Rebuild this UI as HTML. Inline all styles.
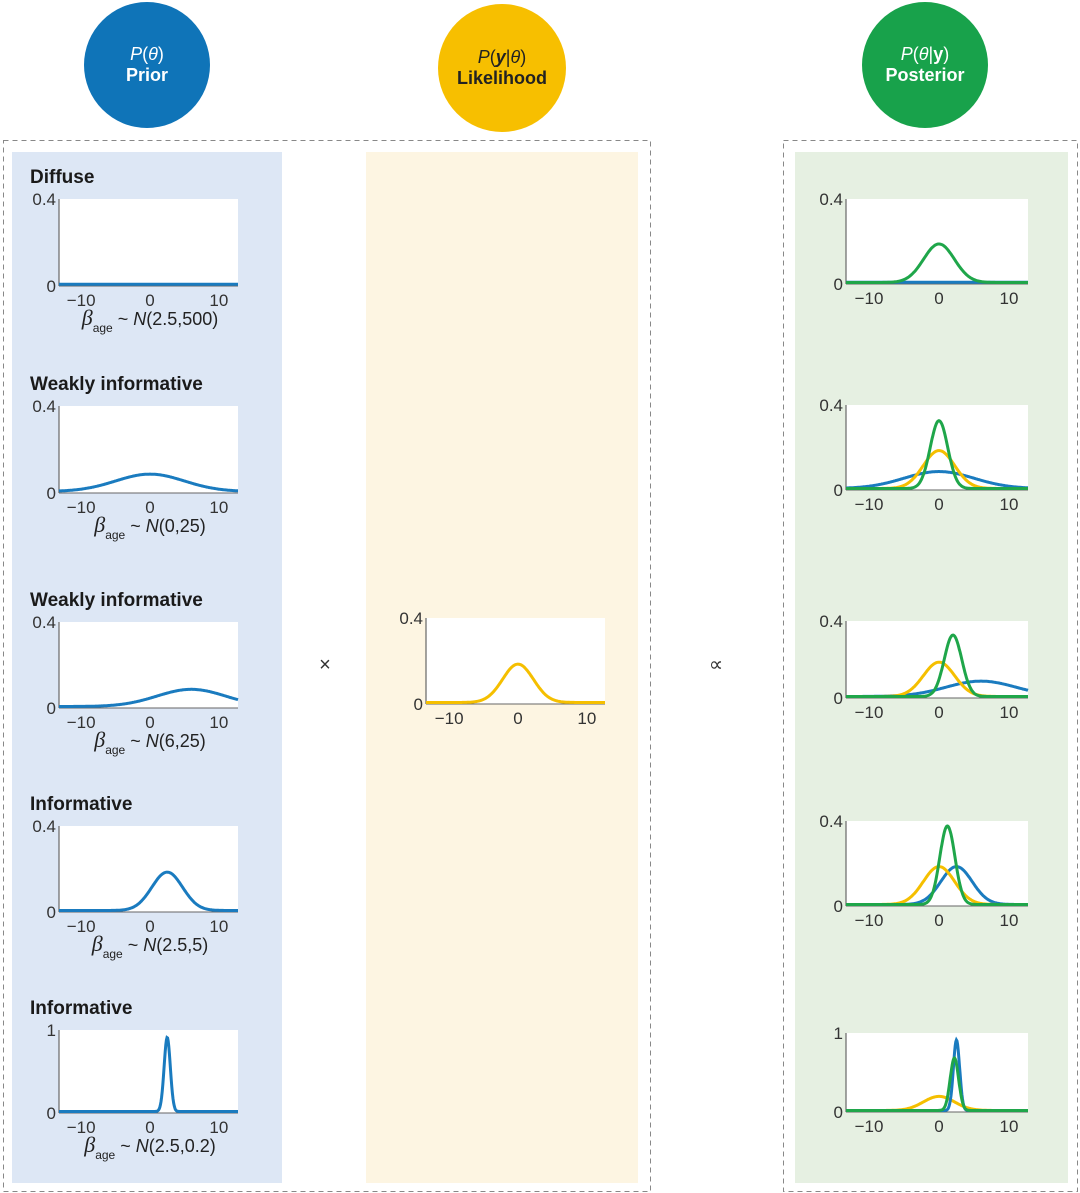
<!DOCTYPE html>
<html><head><meta charset="utf-8"><style>
body{margin:0;background:#fff;width:1080px;height:1193px;overflow:hidden}
svg{display:block}
text{font-family:"Liberation Sans",sans-serif}
</style></head><body>
<svg id="s" width="1080" height="1193" xmlns="http://www.w3.org/2000/svg">
<rect x="12" y="152" width="270" height="1031" fill="#dde7f5"/>
<rect x="366" y="152" width="272" height="1031" fill="#fdf5e2"/>
<rect x="795" y="152" width="273" height="1031" fill="#e6f0e2"/>
<rect x="3.5" y="140.5" width="647" height="1051" fill="none" stroke="#888" stroke-dasharray="5,4"/>
<rect x="783.5" y="140.5" width="294" height="1051" fill="none" stroke="#888" stroke-dasharray="5,4"/>
<circle cx="147" cy="65" r="63" fill="#0f74b8"/>
<circle cx="502" cy="68" r="64" fill="#f7bf00"/>
<circle cx="925" cy="65" r="63" fill="#18a24b"/>
<text x="147" y="60" text-anchor="middle" fill="#fff" font-size="18"><tspan font-style="italic">P</tspan>(<tspan font-style="italic">θ</tspan>)</text>
<text x="147" y="81" text-anchor="middle" fill="#fff" font-size="18" font-weight="bold">Prior</text>
<text x="502" y="63" text-anchor="middle" fill="#222" font-size="18"><tspan font-style="italic">P</tspan>(<tspan font-weight="bold" font-style="italic">y</tspan>|<tspan font-style="italic">θ</tspan>)</text>
<text x="502" y="84" text-anchor="middle" fill="#222" font-size="18" font-weight="bold">Likelihood</text>
<text x="925" y="60" text-anchor="middle" fill="#fff" font-size="18"><tspan font-style="italic">P</tspan>(<tspan font-style="italic">θ</tspan>|<tspan font-weight="bold">y</tspan>)</text>
<text x="925" y="81" text-anchor="middle" fill="#fff" font-size="18" font-weight="bold">Posterior</text>
<text x="325" y="671" text-anchor="middle" font-size="20" fill="#333">×</text>
<text x="716" y="671" text-anchor="middle" font-size="20" fill="#333">∝</text>
<g id="g"></g>
</svg>
<script>
var B="#1a7bbf",Y="#f5bf00",G="#1fa64a";
var g=document.getElementById("g"),h="";
function pdf(x,m,s){return Math.exp(-(x-m)*(x-m)/(2*s*s))/(s*Math.sqrt(2*Math.PI));}
function plot(x0,x1,yt,yb,zx,ymax,curves,ylab){
 var sc=(x1-x0)/26.0;
 h+='<rect x="'+x0+'" y="'+yt+'" width="'+(x1-x0)+'" height="'+(yb-yt)+'" fill="#fff"/>';
 h+='<line x1="'+x0+'" y1="'+yt+'" x2="'+x0+'" y2="'+yb+'" stroke="#666" stroke-width="1.2"/>';
 h+='<line x1="'+x0+'" y1="'+yb+'" x2="'+x1+'" y2="'+yb+'" stroke="#666" stroke-width="1"/>';
 h+='<text x="'+(x0-3)+'" y="'+(yt+6)+'" text-anchor="end" font-size="17" fill="#333">'+ylab+'</text>';
 h+='<text x="'+(x0-3)+'" y="'+(yb+6)+'" text-anchor="end" font-size="17" fill="#333">0</text>';
 [-10,0,10].forEach(function(v){h+='<text x="'+(zx+v*sc)+'" y="'+(yb+20)+'" text-anchor="middle" font-size="17" fill="#333">'+(v<0?'−10':v)+'</text>';});
 curves.forEach(function(c){var d="";for(var i=0;i<=300;i++){var px=x0+(x1-x0)*i/300,xv=(px-zx)/sc;var v=pdf(xv,c[0],c[1]);var py=yb-1.5-v/ymax*(yb-yt);d+=(i?"L":"M")+px.toFixed(1)+","+py.toFixed(1);}
 h+='<path d="'+d+'" fill="none" stroke="'+c[2]+'" stroke-width="3"/>';});
}
function lab(y,t){h+='<text x="30" y="'+y+'" font-size="19" font-weight="bold" fill="#1a1a1a">'+t+'</text>';}
function form(y,t){h+='<text x="150" y="'+y+'" text-anchor="middle" font-size="18" fill="#222"><tspan font-style="italic" font-family="Liberation Serif" font-size="22">β</tspan><tspan font-size="12" dy="7">age</tspan><tspan dy="-7"> ~ </tspan><tspan font-style="italic">N</tspan>'+t+'</text>';}
var L=[0,2.236,Y];
var pri=[[2.5,300],[0,5],[6,5],[2.5,2.236],[2.5,0.447]];
var tops=[199,406,622,826,1030],bots=[286,493,708,912,1113];
var names=["Diffuse","Weakly informative","Weakly informative","Informative","Informative"];
var forms=["(2.5,500)","(0,25)","(6,25)","(2.5,5)","(2.5,0.2)"];
for(var i=0;i<5;i++){lab(tops[i]-16,names[i]);plot(59,238,tops[i],bots[i],150,i==4?1:0.4,[[pri[i][0],pri[i][1],B]],i==4?"1":"0.4");form(bots[i]+39,forms[i]);}
plot(426,605,618,704,518,0.4,[L],"0.4");
var pt=[199,405,621,821,1033],pb=[284,490,698,906,1112];
var pc=[[[2.5,300,B],[0,2.2,G]],[[0,5,B],L,[0,1.25,G]],[[6,5,B],L,[2,1.25,G]],[[2.5,2.236,B],L,[1.2,1.08,G]],[L,[2.5,0.447,B],[2.2,0.6,G]]];
for(var i=0;i<5;i++){plot(846,1028,pt[i],pb[i],939,i==4?1:0.4,pc[i],i==4?"1":"0.4");}
g.innerHTML=h;
</script>
</body></html>
